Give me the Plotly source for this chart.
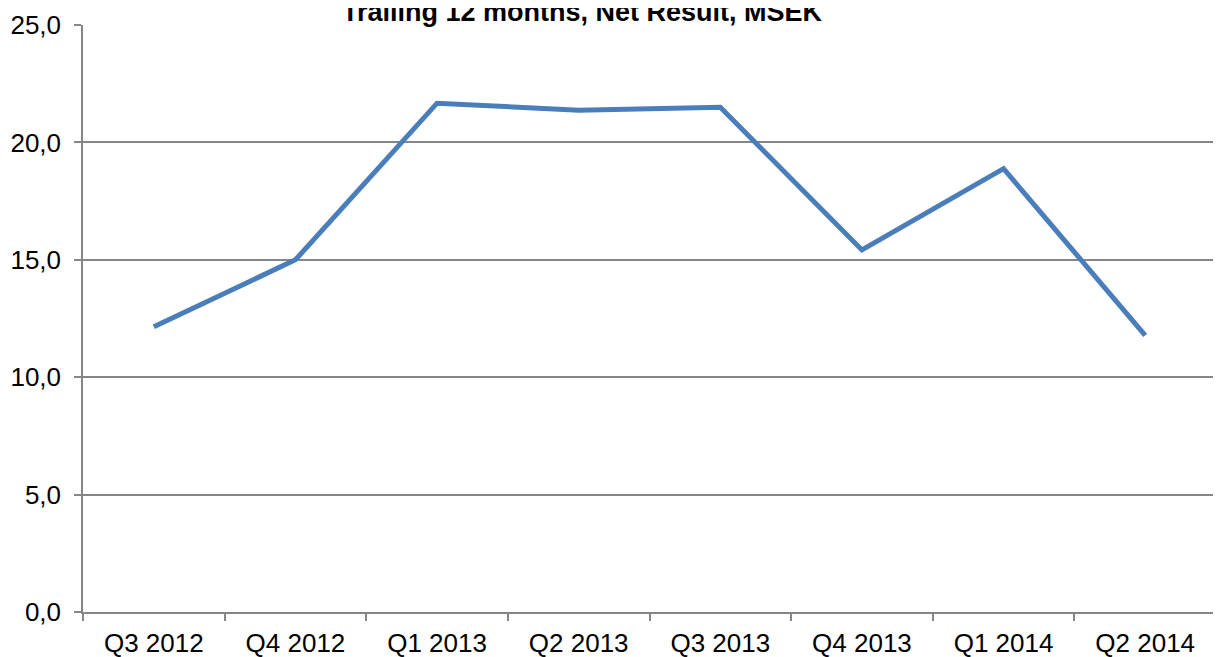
import plotly.graph_objects as go

categories = ["Q3 2012", "Q4 2012", "Q1 2013", "Q2 2013", "Q3 2013", "Q4 2013", "Q1 2014", "Q2 2014"]
net_result = [12.15, 15.0, 21.67, 21.37, 21.5, 15.42, 18.88, 11.78]
y_ticks = [0, 5, 10, 15, 20, 25]
y_labels = ["0,0", "5,0", "10,0", "15,0", "20,0", "25,0"]

grey = "#868686"
fig = go.Figure()
fig.add_trace(go.Scatter(
    x=categories, y=net_result, mode="lines",
    line=dict(color="#4A7EBB", width=5),
    showlegend=False,
))
# page body has an 8px default margin, so the figure is offset by (8, 8)
fig.update_layout(
    width=1213, height=649,
    margin=dict(l=75, r=5, t=17, b=45),
    paper_bgcolor="white", plot_bgcolor="white",
    font=dict(family="Liberation Sans, Arial, sans-serif", size=26, color="black"),
)
fig.add_annotation(
    text="<b>Trailing 12 months, Net Result, MSEK</b>",
    font=dict(size=27, color="black"),
    xref="paper", yref="paper", x=(582 - 83) / (1216 - 83), y=1,
    xanchor="center", yanchor="middle", yshift=13, showarrow=False,
)
fig.update_xaxes(
    type="category", range=[-0.5, len(categories) - 0.5], automargin=False,
    showline=True, linecolor=grey, linewidth=1.5,
    ticks="outside", tickson="boundaries", ticklen=7, tickcolor=grey, tickwidth=1.5,
    showgrid=False, tickfont=dict(size=26), ticklabelstandoff=7,
)
fig.update_yaxes(
    range=[0, 25], tickvals=y_ticks, ticktext=y_labels, automargin=False,
    showline=True, linecolor=grey, linewidth=1.5,
    ticks="outside", ticklen=7, tickcolor=grey, tickwidth=1.5,
    showgrid=True, gridcolor=grey, gridwidth=1.5, zeroline=False,
    tickfont=dict(size=26), ticklabelstandoff=8,
)
fig.write_html("out.html")
